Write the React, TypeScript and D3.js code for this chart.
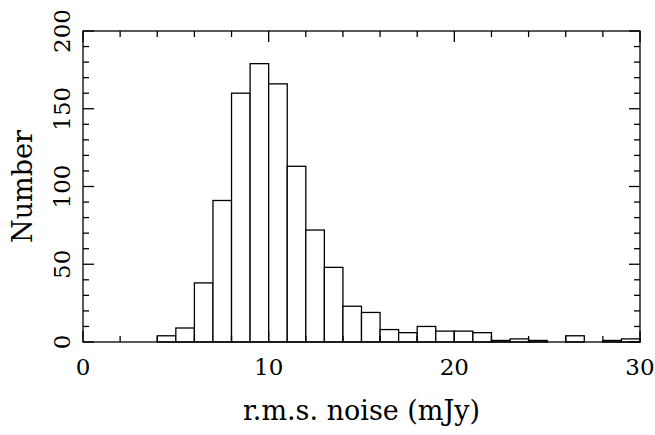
import React from "react";
import * as d3 from "d3";

const binStarts = [0,1,2,3,4,5,6,7,8,9,10,11,12,13,14,15,16,17,18,19,20,21,22,23,24,25,26,27,28,29];
const counts = [0,0,0,0,4,9,38,91,160,179,166,113,72,48,23,19,8,6,10,7,7,6,1,2,1,0,4,0,1,2];
const xTickLabels = [0, 10, 20, 30];
const yTickLabels = [0, 50, 100, 150, 200];
const xTitle = "r.m.s. noise (mJy)";
const yTitle = "Number";

const W = 655, H = 435;
const L = 83, R = 640, T = 31, B = 342;

export default function App() {
  const x = d3.scaleLinear().domain([0, 30]).range([L, R]);
  const y = d3.scaleLinear().domain([0, 200]).range([B, T]);
  const xMinor = d3.range(0, 31, 2);
  const yMinor = d3.range(0, 201, 10);
  const majLen = 11, minLen = 6;
  const stroke = "#000";
  const sw = 1.3;
  const font = "'DejaVu Serif', serif";

  return (
    <div style={{ position: "fixed", left: 0, top: 0 }}>
      <svg width={W} height={H} style={{ display: "block", background: "#fff" }}>
        <rect x={0} y={0} width={W} height={H} fill="#fff" />
        {binStarts.map((b, i) => (
          <rect key={i} x={x(b)} y={y(counts[i])} width={x(b + 1) - x(b)} height={y(0) - y(counts[i])}
            fill="#fff" stroke={stroke} strokeWidth={sw} />
        ))}
        {/* x ticks bottom & top */}
        {xMinor.map((v) => {
          const len = v % 10 === 0 ? majLen : minLen;
          return (
            <g key={"xt" + v}>
              <line x1={x(v)} x2={x(v)} y1={B} y2={B - len} stroke={stroke} strokeWidth={sw} />
              <line x1={x(v)} x2={x(v)} y1={T} y2={T + len} stroke={stroke} strokeWidth={sw} />
            </g>
          );
        })}
        {yMinor.map((v) => {
          const len = v % 50 === 0 ? majLen : minLen;
          return (
            <g key={"yt" + v}>
              <line x1={L} x2={L + len} y1={y(v)} y2={y(v)} stroke={stroke} strokeWidth={sw} />
              <line x1={R} x2={R - len} y1={y(v)} y2={y(v)} stroke={stroke} strokeWidth={sw} />
            </g>
          );
        })}
        <rect x={L} y={T} width={R - L} height={B - T} fill="none" stroke={stroke} strokeWidth={sw} />
        {xTickLabels.map((v) => (
          <text key={"xl" + v} x={x(v)} y={375} textAnchor="middle" fontFamily={font} fontSize={23} fill="#000">{v}</text>
        ))}
        {yTickLabels.map((v) => (
          <text key={"yl" + v} transform={`translate(70,${y(v)}) rotate(-90)`} textAnchor="middle" fontFamily={font} fontSize={23} fill="#000">{v}</text>
        ))}
        <text x={(L + R) / 2} y={420} textAnchor="middle" fontFamily={font} fontSize={27} fill="#000">{xTitle}</text>
        <text transform={`translate(32,${(T + B) / 2}) rotate(-90)`} textAnchor="middle" fontFamily={font} fontSize={27} fill="#000">{yTitle}</text>
      </svg>
    </div>
  );
}
